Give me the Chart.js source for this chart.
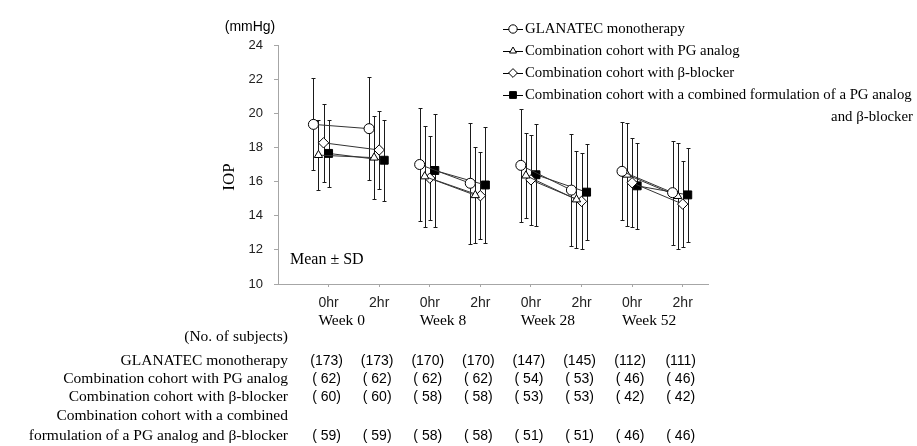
<!DOCTYPE html>
<html>
<head>
<meta charset="utf-8">
<script src="https://cdn.jsdelivr.net/npm/chart.js@4.4.1/dist/chart.umd.min.js"></script>
<style>
  html, body { margin: 0; padding: 0; background: #fff; }
  #wrap { width: 917px; height: 446px; position: relative; }
</style>
</head>
<body>
<div id="wrap"><canvas id="iopChart"></canvas></div>
<script>
// x axis: time point under each tick, week under each pair
const timepoints = ['0hr', '2hr', '0hr', '2hr', '0hr', '2hr', '0hr', '2hr'];
const weeks = ['Week 0', 'Week 8', 'Week 28', 'Week 52'];
const groupX = [0.9, 2, 3, 4, 5, 6, 7, 8];
const yTicks = [10, 12, 14, 16, 18, 20, 22, 24];

const seriesNames = [
  'GLANATEC monotherapy',
  'Combination cohort with PG analog',
  'Combination cohort with β-blocker',
  'Combination cohort with a combined formulation of a PG analog'
];
const legendTail = 'and β-blocker';

// IOP mean and SD (mmHg)
const glanatecMean = [19.35, 19.1, 17.0, 15.9, 16.95, 15.5, 16.6, 15.35];
const glanatecSD = [2.7, 3.0, 3.3, 3.55, 3.3, 3.3, 2.87, 3.05];
const pgMean = [17.55, 17.4, 16.3, 15.2, 16.35, 14.95, 16.4, 15.15];
const pgSD = [2.05, 2.45, 2.95, 2.8, 2.5, 2.86, 3.03, 3.12];
const bbMean = [18.27, 17.85, 16.2, 15.17, 16.1, 14.84, 15.93, 14.68];
const bbSD = [2.28, 2.28, 2.46, 2.56, 2.63, 2.81, 2.6, 2.5];
const combMean = [17.65, 17.25, 16.65, 15.8, 16.4, 15.38, 15.75, 15.22];
const combSD = [1.95, 2.36, 3.3, 3.38, 2.98, 2.8, 2.51, 2.76];

// No. of subjects
const tableLabels = [
  ['GLANATEC monotherapy'],
  ['Combination cohort with PG analog'],
  ['Combination cohort with β-blocker'],
  ['Combination cohort with a combined', 'formulation of a PG analog and β-blocker']
];
const glanatecN = [173, 173, 170, 170, 147, 145, 112, 111];
const pgN = [62, 62, 62, 62, 54, 53, 46, 46];
const bbN = [60, 60, 58, 58, 53, 53, 42, 42];
const combN = [59, 59, 58, 58, 51, 51, 46, 46];

const serif = '"Liberation Serif", "Times New Roman", serif';
const sans = '"Liberation Sans Narrow", "Liberation Sans", Arial, sans-serif';
const axisGrey = '#a6a6a6';
const ink = '#1a1a1a';

const makePoints = (mean, offset) => {
  let pts = [];
  mean.forEach((m, i) => {
    pts.push({x: groupX[i] + offset, y: m});
    if (i % 2 === 1 && i < mean.length - 1) pts.push({x: groupX[i] + 0.5, y: null});
  });
  return pts;
};

const series = [
  {mean: glanatecMean, sd: glanatecSD, n: glanatecN, offset: -0.2, style: 'circle', radius: 5, fill: '#fff'},
  {mean: pgMean, sd: pgSD, n: pgN, offset: -0.1, style: 'triangle', radius: 4.8, fill: '#fff'},
  {mean: bbMean, sd: bbSD, n: bbN, offset: 0, style: 'rectRot', radius: 5.2, fill: '#fff'},
  {mean: combMean, sd: combSD, n: combN, offset: 0.1, style: 'rect', radius: 5.6, fill: '#000'}
];

const datasets = series.map((s, k) => ({
  label: seriesNames[k],
  data: makePoints(s.mean, s.offset),
  mean: s.mean,
  sd: s.sd,
  offset: s.offset,
  borderColor: '#333',
  borderWidth: 1,
  pointStyle: s.style,
  pointRadius: s.radius,
  pointBackgroundColor: s.fill,
  pointBorderColor: '#000',
  pointBorderWidth: 1,
  spanGaps: false,
  fill: false
}));

const errorBars = {
  id: 'errorBars',
  beforeDatasetsDraw(chart) {
    const {ctx, scales: {x, y}} = chart;
    ctx.save();
    ctx.strokeStyle = ink;
    ctx.lineWidth = 1;
    chart.data.datasets.forEach(ds => {
      ds.mean.forEach((m, i) => {
        const px = Math.round(x.getPixelForValue(groupX[i] + ds.offset)) + 0.5;
        const top = Math.round(y.getPixelForValue(m + ds.sd[i])) + 0.5;
        const bot = Math.round(y.getPixelForValue(m - ds.sd[i])) + 0.5;
        ctx.beginPath();
        ctx.moveTo(px, top);
        ctx.lineTo(px, bot);
        ctx.moveTo(px - 2, top);
        ctx.lineTo(px + 2, top);
        ctx.moveTo(px - 2, bot);
        ctx.lineTo(px + 2, bot);
        ctx.stroke();
      });
    });
    ctx.restore();
  }
};

const fmtN = n => n < 100 ? '( ' + n + ')' : '(' + n + ')';

const annotations = {
  id: 'annotations',
  afterDraw(chart) {
    const {ctx, scales: {x}} = chart;
    ctx.save();
    ctx.fillStyle = '#000';
    ctx.textBaseline = 'middle';

    // unit and axis title
    ctx.font = '14px ' + sans;
    ctx.textAlign = 'center';
    ctx.fillText('(mmHg)', 250, 27);
    ctx.save();
    ctx.translate(230, 177);
    ctx.rotate(-Math.PI / 2);
    ctx.font = '17px ' + serif;
    ctx.fillText('IOP', 0, 0);
    ctx.restore();

    ctx.font = '16px ' + serif;
    ctx.textAlign = 'left';
    ctx.fillText('Mean ± SD', 290, 260);

    // week labels, lined up with the 0hr label
    ctx.font = '14px ' + sans;
    const half = ctx.measureText('0hr').width / 2;
    ctx.font = '15.5px ' + serif;
    weeks.forEach((w, i) => {
      ctx.fillText(w, x.getPixelForValue(i * 2 + 1) - half, 321);
    });

    // legend
    series.forEach((s, k) => {
      const ly = 29 + k * 22;
      ctx.strokeStyle = '#000';
      ctx.lineWidth = 1;
      ctx.beginPath();
      ctx.moveTo(503, ly + 0.5);
      ctx.lineTo(523, ly + 0.5);
      ctx.stroke();
      ctx.fillStyle = s.fill;
      Chart.helpers.drawPoint(ctx, {pointStyle: s.style, radius: s.radius - 0.8, rotation: 0, borderWidth: 1}, 513, ly);
      ctx.fillStyle = '#000';
      ctx.font = '14.8px ' + serif;
      ctx.textAlign = 'left';
      ctx.fillText(seriesNames[k], 525, ly);
    });
    ctx.textAlign = 'right';
    ctx.fillText(legendTail, 913, 29 + 4 * 22);

    // subjects table
    ctx.font = '15.5px ' + serif;
    ctx.fillText('(No. of subjects)', 288, 337);
    const rowY = [361, 379, 397, 436];
    tableLabels.forEach((lines, r) => {
      ctx.font = '15.5px ' + serif;
      ctx.textAlign = 'right';
      if (lines.length > 1) ctx.fillText(lines[0], 288, 416);
      ctx.fillText(lines[lines.length - 1], 288, rowY[r]);
      ctx.font = '14px ' + sans;
      ctx.textAlign = 'center';
      series[r].n.forEach((n, i) => {
        ctx.fillText(fmtN(n), x.getPixelForValue(i + 1) - 2, rowY[r]);
      });
    });
    ctx.restore();
  }
};

Chart.defaults.font.family = sans;
Chart.defaults.color = '#222';

new Chart(document.getElementById('iopChart'), {
  type: 'line',
  data: {datasets: datasets},
  options: {
    responsive: true,
    maintainAspectRatio: false,
    animation: false,
    devicePixelRatio: 1,
    layout: {padding: {top: 45, right: 209, left: 0, bottom: 0}},
    plugins: {legend: {display: false}, tooltip: {enabled: false}},
    scales: {
      x: {
        type: 'linear',
        min: 0,
        max: 8.5,
        afterBuildTicks: s => { s.ticks = timepoints.map((t, i) => ({value: i + 1})); },
        afterFit: s => { s.height = 162; },
        ticks: {
          callback: v => timepoints[v - 1],
          font: {size: 14},
          padding: 8,
          maxRotation: 0,
          autoSkip: false
        },
        grid: {drawOnChartArea: false, tickLength: 3, color: axisGrey},
        border: {color: axisGrey}
      },
      y: {
        min: 10,
        max: 24,
        afterBuildTicks: s => { s.ticks = yTicks.map(v => ({value: v})); },
        afterFit: s => { s.width = 278; },
        ticks: {font: {size: 13}, padding: 11},
        grid: {drawOnChartArea: false, tickLength: 4, color: axisGrey},
        border: {color: axisGrey}
      }
    }
  },
  plugins: [errorBars, annotations]
});
</script>
</body>
</html>
